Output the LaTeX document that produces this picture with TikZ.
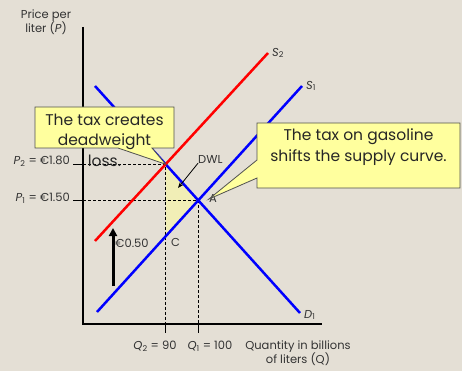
\documentclass[tikz,border=0pt]{standalone}
\usepackage{fontspec}
\setmainfont{Poppins}
\usepackage{tikz}
\usetikzlibrary{arrows.meta, calc}
\definecolor{paper}{HTML}{E4DFD5}
\definecolor{note}{HTML}{FFFF9E}
\definecolor{noteline}{HTML}{505050}
\definecolor{dwlfill}{HTML}{F1EEB6}
\definecolor{supply}{HTML}{0000FF}
\definecolor{taxed}{HTML}{FF0000}

\begin{document}
\begin{tikzpicture}[x=1pt, y=-1pt,
    curve/.style={line width=2.5pt},
    guide/.style={dash pattern=on 3pt off 2pt, line width=0.6pt},
    axis/.style={line width=1.2pt},
    lbl/.style={font=\fontsize{11.5}{14}\selectfont, inner sep=0pt, text=black!80},
    callout/.style={fill=note, draw=noteline, line width=0.8pt},
    calltext/.style={font=\fontsize{15.5}{20.5}\selectfont, align=center, inner sep=0pt, text=black!85}]
  \useasboundingbox (0,0) rectangle (462,371);
  \fill[paper] (0,0) rectangle (462,371);
  % axes
  \coordinate (origin) at (83,324);
  \coordinate (ytop) at (83,27);
  \coordinate (xend) at (322,324);
  % demand and supply lines
  \coordinate (d0) at (95,86);   \coordinate (d1) at (300,313);
  \coordinate (s10) at (97,312); \coordinate (s11) at (302,86);
  \coordinate (s20) at (95,241); \coordinate (s21) at (268,53);
  \coordinate (ea) at (intersection of d0--d1 and s10--s11);
  \coordinate (eb) at (intersection of d0--d1 and s20--s21);
  \coordinate (q2) at (eb |- origin);
  \coordinate (q1) at (ea |- origin);
  \coordinate (ec) at (intersection of s10--s11 and eb--q2);
  \coordinate (p2) at (eb -| origin);
  \coordinate (p1) at (ea -| origin);
  \fill[dwlfill] (eb) -- (ea) -- (ec) -- cycle;
  \draw[guide] (p2) -- (eb) -- (q2);
  \draw[guide] (p1) -- (ea) -- (q1);
  \draw[axis] (ytop) -- (origin) -- (xend);
  \foreach \p in {p1,p2}
    \draw[axis] (\p) -- ++(-10,0);
  \foreach \q in {q1,q2}
    \draw[axis] (\q) -- ++(0,9);
  \draw[curve, supply] (d0) -- (d1);
  \draw[curve, supply] (s10) -- (s11);
  \draw[curve, taxed] (s20) -- (s21);
  % labels on the graph
  \node[lbl, align=center] (ylab) at (46,22) {Price per\\liter (\textit{P})};
  \node[lbl, anchor=east] (p2lab) at (70,161) {\textit{P}\textsubscript{2} = €1.80};
  \node[lbl, anchor=east] (p1lab) at (70,198) {\textit{P}\textsubscript{1} = €1.50};
  \node[lbl] (q2lab) at (155,346) {\textit{Q}\textsubscript{2} = 90};
  \node[lbl] (q1lab) at (210,346) {\textit{Q}\textsubscript{1} = 100};
  \node[lbl, align=center] (xlab) at (298,353) {Quantity in billions\\of liters (Q)};
  \node[lbl, anchor=west] (s2lab) at (272,53) {\textit{S}\textsubscript{2}};
  \node[lbl, anchor=west] (s1lab) at (306,86) {\textit{S}\textsubscript{1}};
  \node[lbl, anchor=west] (d1lab) at (304,315) {\textit{D}\textsubscript{1}};
  \node[lbl, anchor=west] (alab) at (209,199) {A};
  \node[lbl, anchor=west] (clab) at (171,242) {C};
  \node[lbl, anchor=west] (dwllab) at (198,159) {DWL};
  \coordinate (dwltip) at (178,188);
  \draw[line width=0.8pt, -{Stealth[length=6pt]}] (dwllab.south west) -- (dwltip);
  % the tax
  \coordinate (taxlo) at (113,286);
  \coordinate (taxhi) at (113,228);
  \draw[line width=3pt, -{Triangle[length=8pt, width=8pt]}] (taxlo) -- (taxhi);
  \node[lbl, anchor=west] (taxlab) at (115,243) {€0.50};
  % callouts
  \draw[callout] (35,107) -- (174,107) -- (174,148) -- (152,148) -- (eb)
    -- (118,148) -- (35,148) -- cycle;
  \node[calltext] (note1) at (104.5,140) {The tax creates\\deadweight\\loss.};
  \draw[callout] (257,123) -- (460,123) -- (460,188) -- (257,188) -- (257,178)
    -- (alab.west) -- (257,160) -- cycle;
  \node[calltext] (note2) at (358.5,147) {The tax on gasoline\\shifts the supply curve.};
\end{tikzpicture}
\end{document}
